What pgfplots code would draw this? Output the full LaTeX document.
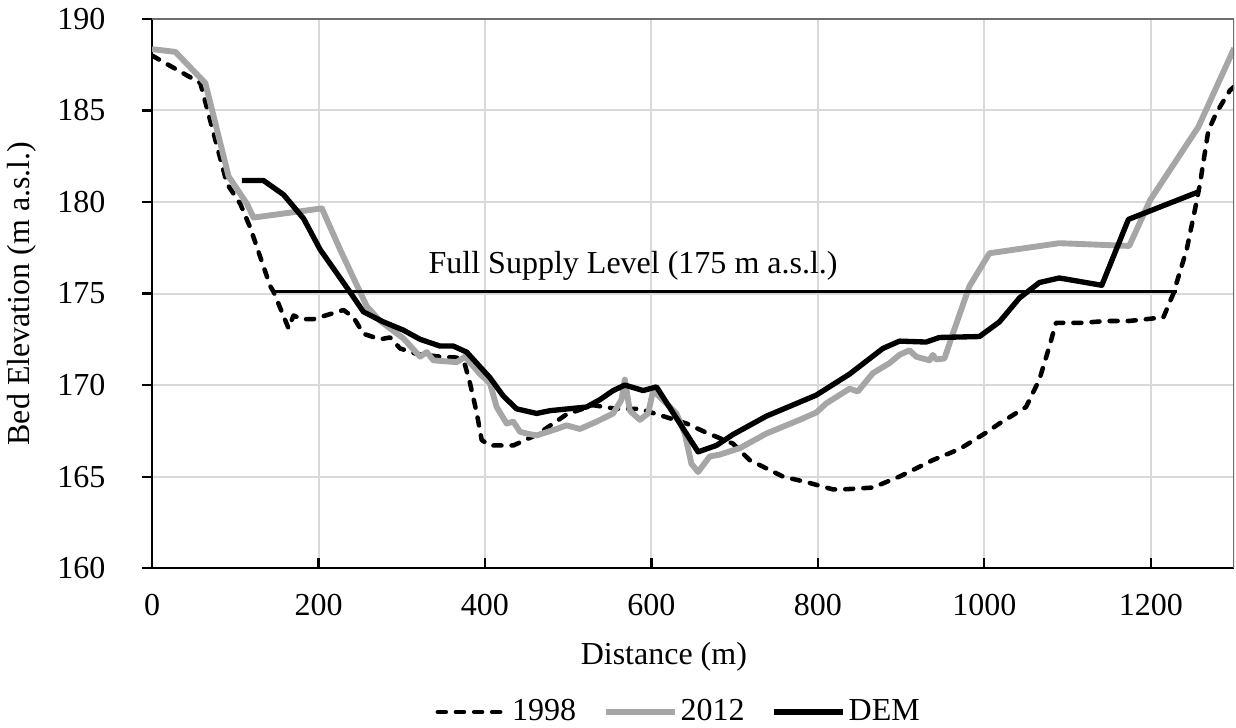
\documentclass[border=0pt]{standalone}
\usepackage{fontspec}
\setmainfont{Liberation Serif}
\usepackage{pgfplots}
\pgfplotsset{compat=1.18}

\definecolor{gridgray}{RGB}{217,217,217}
\definecolor{framegray}{RGB}{110,110,110}
\definecolor{survey}{RGB}{166,166,166}

\begin{document}
\begin{tikzpicture}[font=\fontsize{12}{14.4}\selectfont]
\begin{axis}[
  scale only axis,
  width=405.7pt, height=205.9pt,
  xmin=0, xmax=1300, ymin=160, ymax=190,
  xtick={0,200,...,1200},
  ytick={160,165,...,190},
  axis x line*=bottom, axis y line*=left,
  axis line style={black, line width=0.8pt},
  xtick align=inside, ytick align=outside,
  major tick length=3.75pt,
  tick style={black, line width=0.8pt},
  grid=major,
  major grid style={gridgray, line width=0.75pt},
  /pgf/number format/assume math mode=true,
  /pgf/number format/1000 sep={},
  xticklabel style={anchor=center, yshift=-13.9pt},
  yticklabel style={anchor=east, inner sep=0pt, xshift=-13.5pt},
  xlabel={Distance (m)},
  ylabel={Bed Elevation (m a.s.l.)},
  every axis x label/.style={at={(axis description cs:0.473,-0.162)}, anchor=center},
  every axis y label/.style={at={(axis description cs:-0.120,0.5)}, rotate=90, anchor=center},
  legend columns=3,
  legend style={draw=none, fill=none, at={(axis description cs:0.487,-0.262)}, anchor=center,
    /tikz/every even column/.append style={column sep=9pt},
    nodes={inner sep=1pt}},
  legend image code/.code={\draw[#1] (0pt,0pt) -- (26pt,0pt);},
  line join=round,
]
% 1998 survey
\addplot[black, line width=1.7pt, line cap=round, dash pattern=on 3pt off 3.8pt] coordinates {
(0,188.0) (58,186.5) (90,181.0) (106,179.9) (118,178.6) (142,175.4) (146,175.1)
(164,173.1) (170,173.8) (180,173.6) (194,173.6) (230,174.1) (242,173.7) (254,172.8)
(274,172.5) (286,172.6) (298,172.0) (318,171.7) (346,171.55) (366,171.5) (376,171.1)
(382,170.1) (390,168.5) (396,167.0) (406,166.7) (434,166.7) (458,167.2) (466,167.4)
(498,168.4) (530,168.9) (558,168.7) (586,168.7) (614,168.3) (642,167.9) (666,167.4)
(698,166.8) (718,165.9) (758,165.0) (786,164.7) (818,164.3) (830,164.3) (866,164.4)
(898,165.0) (938,165.9) (970,166.5) (1002,167.4) (1018,167.9) (1050,168.8) (1066,170.3)
(1078,172.1) (1086,173.4) (1118,173.4) (1146,173.5) (1174,173.5) (1215,173.7) (1227,175.0)
(1243,177.4) (1253,179.6) (1259,181.0) (1269,183.9) (1279,184.9) (1295,186.1) (1300,186.3)
};
\addlegendentry{1998}
% 2012 survey
\addplot[survey, line width=2.2pt] coordinates {
(0,188.35) (28,188.2) (64,186.5) (92,181.4) (114,179.9) (122,179.15) (204,179.65)
(226,177.4) (258,174.3) (274,173.5) (302,172.55) (322,171.55) (330,171.8) (338,171.35)
(366,171.25) (376,171.55) (394,170.6) (406,170.1) (414,168.8) (426,167.9) (434,168.0)
(442,167.45) (450,167.35) (462,167.25) (486,167.6) (498,167.8) (514,167.6) (534,168.0)
(554,168.45) (564,169.2) (568,170.3) (574,168.6) (586,168.1) (596,168.45) (602,169.7)
(610,169.35) (630,168.45) (640,167.35) (648,165.7) (656,165.25) (670,166.1) (682,166.2)
(706,166.55) (738,167.35) (778,168.1) (798,168.5) (810,169.0) (838,169.8) (848,169.65)
(866,170.65) (886,171.2) (898,171.65) (910,171.9) (918,171.55) (934,171.35) (938,171.65)
(942,171.4) (952,171.45) (962,172.8) (982,175.4) (1006,177.2) (1090,177.75) (1174,177.6)
(1199,180.1) (1257,184.1) (1300,188.4)
};
\addlegendentry{2012}
% DEM profile
\addplot[black, line width=2.0pt] coordinates {
(108,181.17) (134,181.17) (158,180.4) (182,179.1) (202,177.4) (236,175.2) (254,174.0)
(278,173.45) (302,173.0) (322,172.5) (346,172.13) (362,172.13) (378,171.8) (406,170.4)
(422,169.4) (438,168.7) (462,168.45) (478,168.6) (522,168.8) (538,169.2) (554,169.7)
(568,170.0) (590,169.7) (606,169.9) (656,166.35) (678,166.7) (698,167.3) (738,168.3)
(798,169.45) (838,170.6) (878,172.0) (898,172.4) (930,172.35) (946,172.6) (994,172.65)
(1018,173.45) (1042,174.75) (1066,175.6) (1090,175.85) (1141,175.45) (1173,179.05)
(1257,180.55)
};
\addlegendentry{DEM}
% full supply level
\addplot[black, line width=1.1pt, forget plot] coordinates {(146,175.1) (1231,175.1)};
\node[anchor=base] at (axis cs:578,176.1) {Full Supply Level (175 m a.s.l.)};
% plot area frame, top and right
\draw[framegray, line width=0.75pt] (rel axis cs:0,1) -- (rel axis cs:1,1) -- (rel axis cs:1,0);
\end{axis}
\pgfresetboundingbox
\path[use as bounding box] (-57.0pt,-59.6pt) rectangle (406.4pt,213.0pt);
\end{tikzpicture}
\end{document}
